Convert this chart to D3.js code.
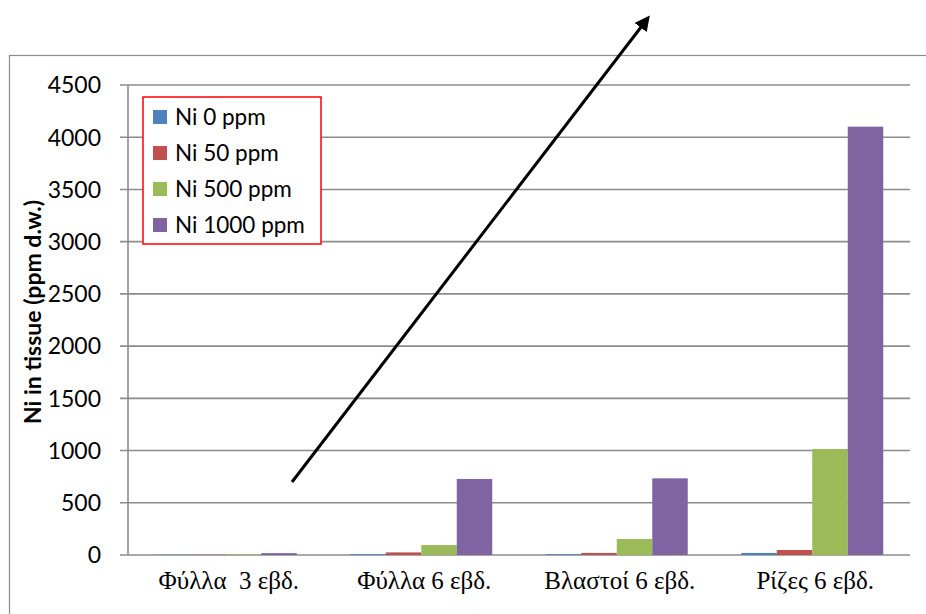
<!DOCTYPE html>
<html>
<head>
<meta charset="utf-8">
<script src="https://cdn.jsdelivr.net/npm/d3@7"></script>
<style>
body { margin: 0; background: #fff; }
</style>
</head>
<body>
<svg id="chart" width="926" height="614"></svg>
<script>
// data
var categories = ["Φύλλα  3 εβδ.", "Φύλλα 6 εβδ.", "Βλαστοί 6 εβδ.", "Ρίζες 6 εβδ."];
var seriesNames = ["Ni 0 ppm", "Ni 50 ppm", "Ni 500 ppm", "Ni 1000 ppm"];
var seriesColors = ["#4f81bd", "#c0504d", "#9bbb59", "#8064a2"];
var ni0 = [2, 8, 8, 20];
var ni50 = [3, 25, 20, 48];
var ni500 = [5, 95, 153, 1015];
var ni1000 = [18, 728, 734, 4101];
var yTicks = [0, 500, 1000, 1500, 2000, 2500, 3000, 3500, 4000, 4500];

var series = [ni0, ni50, ni500, ni1000];

const svg = d3.select("#chart"),
    margin = {top: 85, right: 16, bottom: 59, left: 128},
    width = +svg.attr("width"),
    height = +svg.attr("height"),
    domainWidth = width - margin.left - margin.right,
    domainHeight = height - margin.top - margin.bottom;

var sans = "Lato, 'Open Sans', sans-serif";

// outer chart frame (runs off the right and bottom edges)
svg.append("rect")
    .attr("x", 9.5).attr("y", 55.5)
    .attr("width", 1000).attr("height", 1000)
    .attr("fill", "none")
    .attr("stroke", "#8c8c8c")
    .attr("stroke-width", 1.2);

const x0 = d3.scaleBand()
    .domain(categories)
    .range([0, domainWidth]);

const x1 = d3.scaleBand()
    .domain(d3.range(seriesNames.length))
    .range([0, x0.bandwidth()])
    .paddingOuter(0.5 * 53.5 / 35.5);

const y = d3.scaleLinear()
    .domain([0, 4500])
    .range([domainHeight, 0]);

const g = svg.append("g")
    .attr("transform", "translate(" + margin.left + "," + margin.top + ")");

// gridlines with outward ticks
g.append("g")
    .attr("class", "grid")
    .selectAll("line")
    .data(yTicks)
    .enter().append("line")
    .attr("x1", -8)
    .attr("x2", domainWidth)
    .attr("y1", function (d) { return y(d); })
    .attr("y2", function (d) { return y(d); })
    .attr("stroke", "#8c8c8c")
    .attr("stroke-width", 1.6);

// y axis line
g.append("line")
    .attr("x1", 0).attr("x2", 0)
    .attr("y1", 0).attr("y2", domainHeight)
    .attr("stroke", "#8c8c8c")
    .attr("stroke-width", 1.6);

// tick labels
g.append("g")
    .selectAll("text")
    .data(yTicks)
    .enter().append("text")
    .attr("x", -27)
    .attr("y", function (d) { return y(d); })
    .attr("dy", "0.36em")
    .style("text-anchor", "end")
    .style("font-family", sans)
    .style("font-size", "23px")
    .attr("fill", "#000")
    .text(function (d) { return d; });

// bars
const groups = g.selectAll("g.cat")
    .data(categories)
    .enter().append("g")
    .attr("class", "cat")
    .attr("transform", function (d) { return "translate(" + x0(d) + ",0)"; });

groups.selectAll("rect")
    .data(function (d, i) {
        return series.map(function (s, j) { return {k: j, v: s[i]}; });
    })
    .enter().append("rect")
    .attr("x", function (d) { return x1(d.k); })
    .attr("width", x1.bandwidth())
    .attr("y", function (d) { return y(d.v); })
    .attr("height", function (d) { return domainHeight - y(d.v); })
    .attr("fill", function (d) { return seriesColors[d.k]; });

// category labels
g.append("g")
    .selectAll("text")
    .data(categories)
    .enter().append("text")
    .attr("x", function (d) { return x0(d) + x0.bandwidth() / 2 + 3; })
    .attr("y", domainHeight + 34)
    .style("text-anchor", "middle")
    .style("font-family", "'Liberation Serif', 'DejaVu Serif', serif")
    .style("font-size", "25px")
    .style("white-space", "pre")
    .attr("xml:space", "preserve")
    .attr("fill", "#000")
    .text(function (d) { return d; });

// y axis title
svg.append("text")
    .attr("transform", "translate(41,312) rotate(-90)")
    .style("text-anchor", "middle")
    .style("font-family", sans)
    .style("font-weight", "bold")
    .style("font-size", "23px")
    .attr("fill", "#000")
    .text("Ni in tissue (ppm d.w.)");

// legend
const legend = svg.append("g")
    .attr("transform", "translate(143,97)");

legend.append("rect")
    .attr("width", 178)
    .attr("height", 147)
    .attr("fill", "#fff")
    .attr("stroke", "#ff0000")
    .attr("stroke-width", 1.5);

const items = legend.selectAll("g.item")
    .data(seriesNames)
    .enter().append("g")
    .attr("class", "item")
    .attr("transform", function (d, i) { return "translate(10," + (20 + i * 36) + ")"; });

items.append("rect")
    .attr("x", 0).attr("y", -7)
    .attr("width", 14).attr("height", 14)
    .attr("fill", function (d, i) { return seriesColors[i]; });

items.append("text")
    .attr("x", 22)
    .attr("dy", "0.36em")
    .style("font-family", sans)
    .style("font-size", "22.5px")
    .attr("fill", "#000")
    .text(function (d) { return d; });

// annotation arrow
const defs = svg.append("defs");
defs.append("marker")
    .attr("id", "head")
    .attr("viewBox", "0 0 10 10")
    .attr("refX", 8).attr("refY", 5)
    .attr("markerWidth", 5).attr("markerHeight", 5)
    .attr("orient", "auto")
    .append("path")
    .attr("d", "M0,0 L10,5 L0,10 z")
    .attr("fill", "#000");

svg.append("line")
    .attr("x1", 292).attr("y1", 482)
    .attr("x2", 648).attr("y2", 18)
    .attr("stroke", "#000")
    .attr("stroke-width", 3)
    .attr("marker-end", "url(#head)");
</script>
</body>
</html>
